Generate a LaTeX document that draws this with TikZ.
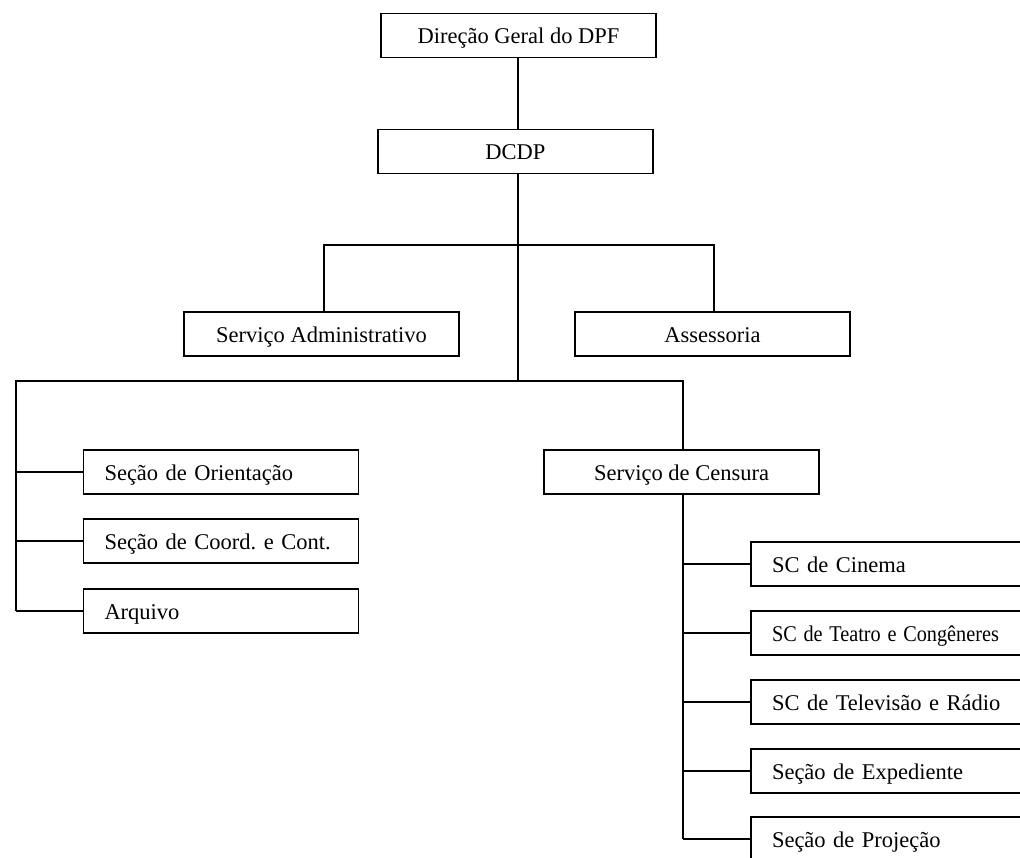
\documentclass[tikz,border=0pt]{standalone}
\usepackage{fontspec}
\setmainfont{Liberation Serif}
\frenchspacing
\tikzset{
  box/.style={draw, line width=1.5pt, minimum width=275pt, minimum height=44pt, inner sep=0pt, text height=20pt, text depth=3pt, font=\fontsize{22.5}{26}\selectfont},
  lbox/.style={box, text width=233pt, inner xsep=21pt, align=left},
  link/.style={line width=1.5pt}
}
\begin{document}
\begin{tikzpicture}[x=1pt,y=-1pt]
\path[use as bounding box, clip] (0,0) rectangle (1020,858);
\node[box] (dpf) at (518.5,35.5) {Direção Geral do DPF};
\node[box] (dcdp) at (515.5,151.5) {DCDP};
\node[box] (adm) at (321.5,334) {Serviço Administrativo};
\node[box] (ass) at (712.5,334) {Assessoria};

\node[lbox] (ori) at (221,472) {Seção de Orientação};
\node[lbox] (coord) at (221,541) {Seção de Coord. e Cont.};
\node[lbox] (arq) at (221,611) {Arquivo};
\node[box] (cens) at (681.5,472) {Serviço de Censura};

\node[lbox] (cin) at (888.5,564) {SC de Cinema};
\node[lbox] (tea) at (888.5,633) {\scalebox{0.9}[1]{SC de Teatro e Congêneres}};
\node[lbox] (tv) at (888.5,702) {SC de Televisão e Rádio};
\node[lbox] (exp) at (888.5,771) {Seção de Expediente};
\node[lbox] (proj) at (888.5,839) {Seção de Projeção};

\coordinate (upper) at (518,245);
\coordinate (lower) at (518,381);
\coordinate (leftbar) at (16,381);
\coordinate (censbar) at (683,381);

\draw[link] (dpf.south -| upper) -- (dcdp.north -| upper);
\draw[link] (dcdp.south -| upper) -- (lower);
\draw[link] (adm.north -| 324,0) |- (upper) -| (ass.north -| 714,0);
\draw[link] (leftbar |- arq.west) -- (leftbar) -- (censbar) -- (cens.north -| censbar);
\draw[link] (cens.south -| censbar) -- (censbar |- proj.west);
\foreach \n in {ori,coord,arq}
  \draw[link] (leftbar |- \n.west) -- (\n.west);
\foreach \n in {cin,tea,tv,exp,proj}
  \draw[link] (censbar |- \n.west) -- (\n.west);
\end{tikzpicture}
\end{document}
